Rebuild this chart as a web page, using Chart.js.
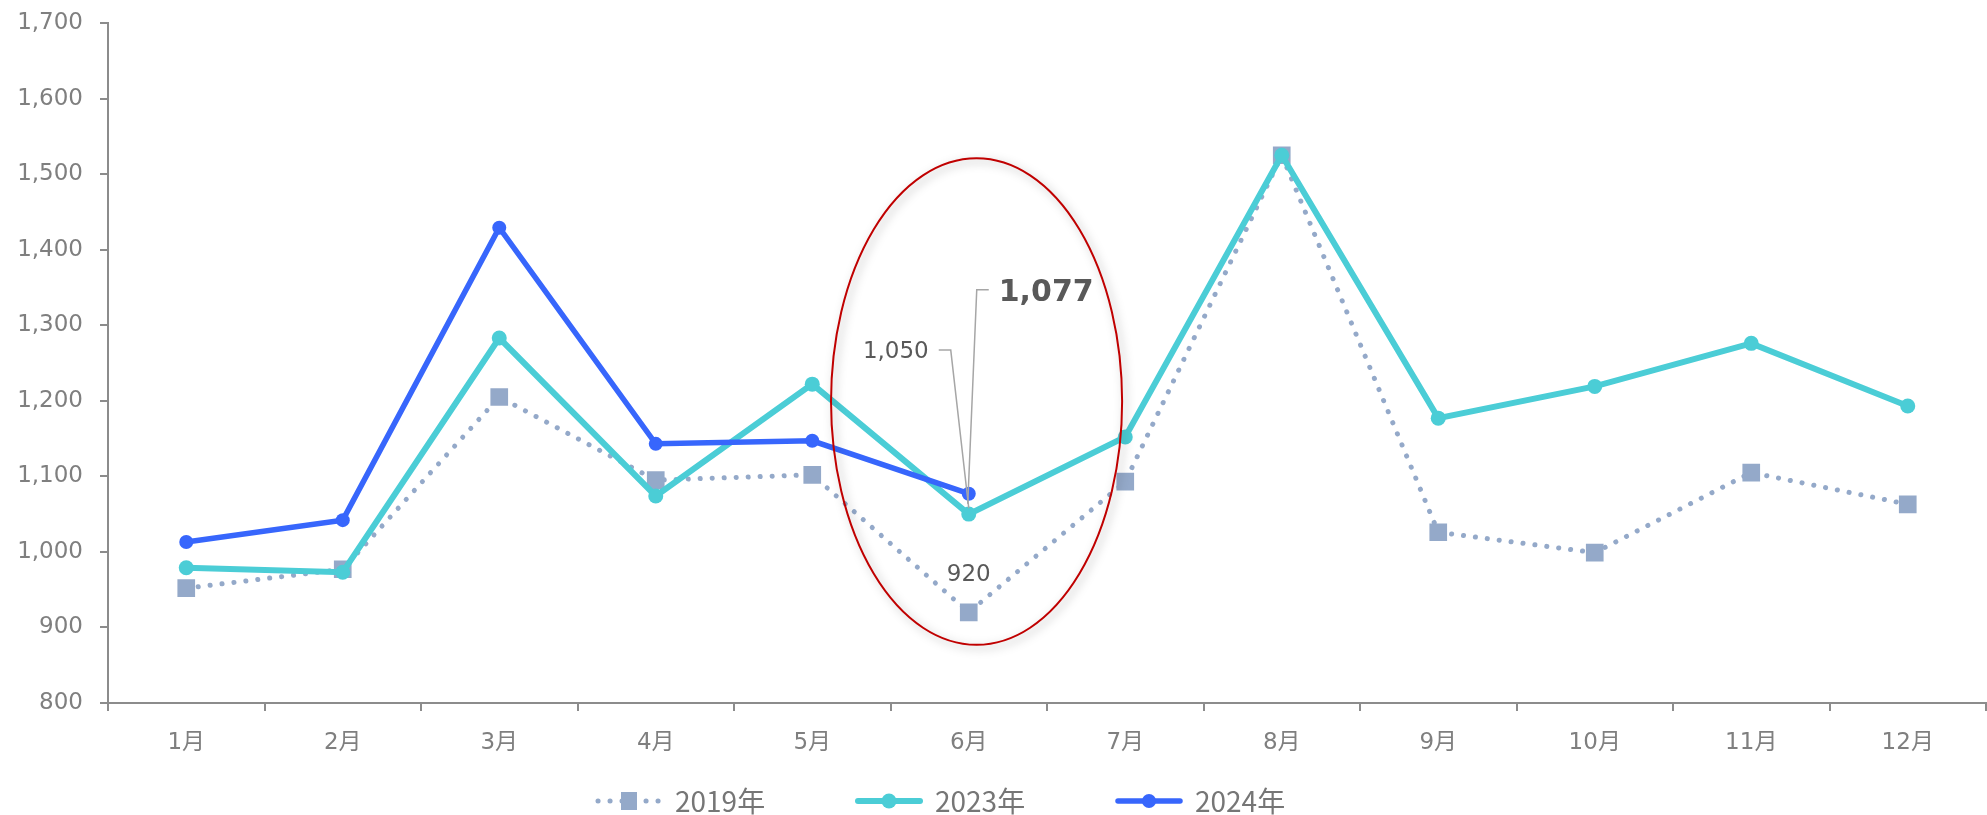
<!DOCTYPE html>
<html>
<head>
<meta charset="utf-8">
<script src="https://cdn.jsdelivr.net/npm/chart.js@4"></script>
<style>
  html, body { margin: 0; padding: 0; background: #fff; }
</style>
</head>
<body>
<canvas id="chart" width="1987" height="815"></canvas>
<script>
const months = ['1月', '2月', '3月', '4月', '5月', '6月', '7月', '8月', '9月', '10月', '11月', '12月'];
const seriesNames = ['2019年', '2023年', '2024年'];
const values2019 = [952, 977, 1205, 1095, 1102, 920, 1093, 1525, 1026, 999, 1105, 1063];
const values2023 = [979, 973, 1283, 1074, 1222, 1050, 1152, 1525, 1177, 1219, 1276, 1193];
const values2024 = [1013, 1042, 1429, 1143, 1147, 1077];
const yMin = 800;
const yMax = 1700;
const yStep = 100;

const grey = '#8c8c8c';
const textGrey = '#7f7f7f';

Chart.defaults.font.family = "'DejaVu Sans', 'Noto Sans CJK JP', sans-serif";
Chart.defaults.font.size = 23;
Chart.defaults.color = textGrey;

// callouts around June
const calloutPlugin = {
    id: 'callouts',
    afterDatasetsDraw(chart) {
        const ctx = chart.ctx;
        const fmt = v => v.toLocaleString('en-US');
        const p19 = chart.getDatasetMeta(0).data[5];
        const p23 = chart.getDatasetMeta(1).data[5];
        const p24 = chart.getDatasetMeta(2).data[5];
        ctx.save();
        ctx.fillStyle = '#595959';
        ctx.textBaseline = 'middle';

        // 920
        ctx.font = "23px 'DejaVu Sans'";
        ctx.textAlign = 'center';
        ctx.fillText(fmt(values2019[5]), p19.x, p19.y - 37);

        // 1,050 with leader
        ctx.strokeStyle = '#a6a6a6';
        ctx.lineWidth = 1.5;
        ctx.beginPath();
        ctx.moveTo(p23.x - 30, p23.y - 164);
        ctx.lineTo(p23.x - 18, p23.y - 164);
        ctx.lineTo(p23.x, p23.y - 6);
        ctx.stroke();
        ctx.textAlign = 'right';
        ctx.fillText(fmt(values2023[5]), p23.x - 40, p23.y - 162);

        // 1,077 with leader
        ctx.beginPath();
        ctx.moveTo(p24.x + 20, p24.y - 204);
        ctx.lineTo(p24.x + 8, p24.y - 204);
        ctx.lineTo(p24.x - 1, p24.y + 10);
        ctx.stroke();
        ctx.font = "bold 30px 'DejaVu Sans'";
        ctx.textAlign = 'left';
        ctx.fillText(fmt(values2024[5]), p24.x + 30, p24.y - 201);

        // red ellipse
        const xs = chart.scales.x, ys = chart.scales.y;
        const step = xs.getPixelForValue(6) - xs.getPixelForValue(5);
        const cx = xs.getPixelForValue(5) + step * 0.05;
        const top = ys.getPixelForValue(1521), bottom = ys.getPixelForValue(877);
        ctx.shadowColor = 'rgba(0,0,0,0.35)';
        ctx.shadowBlur = 10;
        ctx.shadowOffsetX = 3;
        ctx.shadowOffsetY = 3;
        ctx.strokeStyle = '#c00000';
        ctx.lineWidth = 2;
        ctx.beginPath();
        ctx.ellipse(cx, (top + bottom) / 2, step * 0.93, (bottom - top) / 2, 0, 0, Math.PI * 2);
        ctx.stroke();
        ctx.restore();
    }
};

// legend with line + marker samples
const legendPlugin = {
    id: 'lineLegend',
    afterDraw(chart) {
        const ctx = chart.ctx;
        const y = 801, pitch = 260, markW = 68, gap = 12;
        let x = 595;
        chart.data.datasets.forEach(ds => {
            ctx.save();
            ctx.strokeStyle = ds.borderColor;
            ctx.lineWidth = ds.borderWidth;
            ctx.lineCap = 'round';
            ctx.setLineDash(ds.borderDash || []);
            ctx.beginPath();
            ctx.moveTo(x + 3, y);
            ctx.lineTo(x + markW - 3, y);
            ctx.stroke();
            ctx.setLineDash([]);
            ctx.fillStyle = ds.pointBackgroundColor;
            const mx = x + markW / 2;
            if (ds.pointStyle === 'rect') {
                ctx.fillRect(mx - 8, y - 9, 16, 18);
            } else {
                ctx.beginPath();
                ctx.arc(mx, y, ds.pointRadius, 0, Math.PI * 2);
                ctx.fill();
            }
            ctx.fillStyle = '#767676';
            ctx.font = "28px 'Noto Sans CJK JP'";
            ctx.textBaseline = 'middle';
            ctx.textAlign = 'left';
            ctx.fillText(ds.label, x + markW + gap, y);
            ctx.restore();
            x += pitch;
        });
    }
};

new Chart(document.getElementById('chart').getContext('2d'), {
    type: 'line',
    data: {
        labels: months,
        datasets: [{
            label: seriesNames[0],
            data: values2019,
            borderColor: '#94a9c9',
            backgroundColor: '#94a9c9',
            borderWidth: 5,
            borderDash: [0.1, 11.9],
            borderCapStyle: 'round',
            pointStyle: 'rect',
            pointRadius: 12.5,
            pointBorderWidth: 0,
            pointBackgroundColor: '#94a9c9',
            tension: 0,
            order: 3
        }, {
            label: seriesNames[1],
            data: values2023,
            borderColor: '#4bcdd6',
            backgroundColor: '#4bcdd6',
            borderWidth: 6,
            pointStyle: 'circle',
            pointRadius: 7.5,
            pointBorderWidth: 0,
            pointBackgroundColor: '#4bcdd6',
            tension: 0,
            order: 2
        }, {
            label: seriesNames[2],
            data: values2024,
            borderColor: '#3766fc',
            backgroundColor: '#3766fc',
            borderWidth: 5.5,
            pointStyle: 'circle',
            pointRadius: 7,
            pointBorderWidth: 0,
            pointBackgroundColor: '#3766fc',
            tension: 0,
            order: 1
        }]
    },
    options: {
        responsive: false,
        animation: false,
        events: [],
        layout: {
            autoPadding: false,
            padding: { left: 19, right: 1, top: 23, bottom: 58 }
        },
        plugins: {
            legend: { display: false },
            tooltip: { enabled: false }
        },
        scales: {
            x: {
                offset: true,
                border: { color: grey, width: 2 },
                grid: { offset: true, drawOnChartArea: false, tickLength: 8, color: grey, lineWidth: 2 },
                ticks: { padding: 18, autoSkip: false, maxRotation: 0, color: textGrey },
                afterFit(scale) {
                    scale.height = 54;
                    scale.paddingLeft = 0;
                    scale.paddingRight = 0;
                }
            },
            y: {
                min: yMin,
                max: yMax,
                border: { color: grey, width: 2 },
                grid: { drawOnChartArea: false, tickLength: 8, color: grey, lineWidth: 2 },
                ticks: { stepSize: yStep, padding: 17, color: textGrey },
                afterFit(scale) {
                    scale.width = 89;
                    scale.paddingTop = 0;
                    scale.paddingBottom = 0;
                }
            }
        }
    },
    plugins: [calloutPlugin, legendPlugin]
});
</script>
</body>
</html>
